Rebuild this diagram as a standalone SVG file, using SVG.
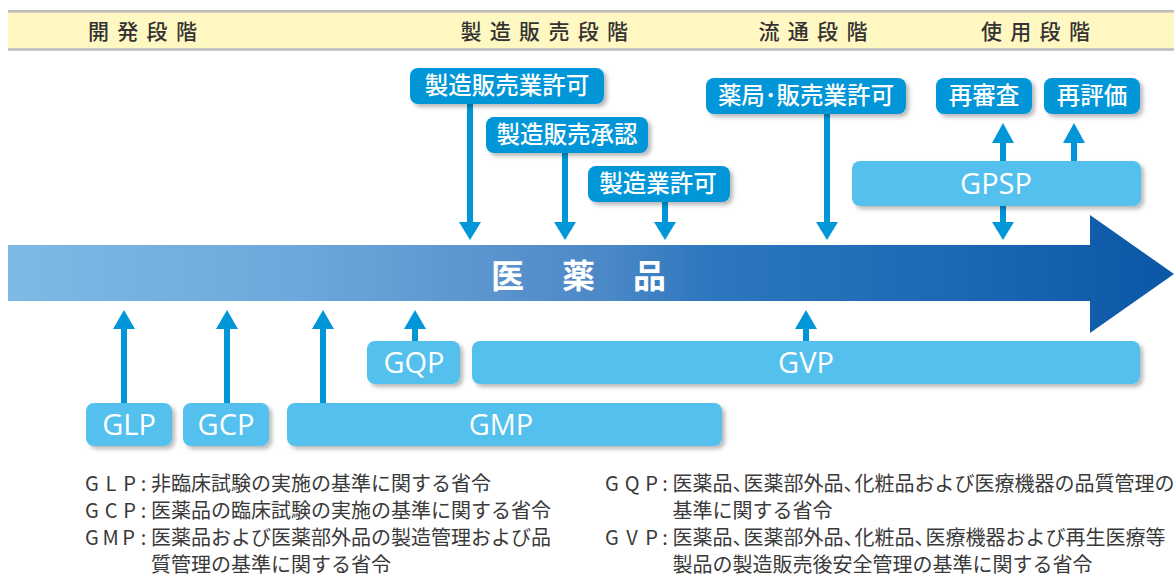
<svg xmlns="http://www.w3.org/2000/svg" width="1174" height="577" viewBox="0 0 1174 577">
  <style>
    .hdr{font-family:'Noto Sans CJK JP',sans-serif;font-size:21px;fill:#333;font-weight:500;letter-spacing:8.3px}
    .dbox{fill:#0096D8}
    .lbox{fill:#52C0EE}
    .dtxt{font-family:'Noto Sans CJK JP',sans-serif;font-size:23.5px;fill:#fff;font-weight:500;text-anchor:middle}
    .ltxt{font-family:'Open Sans','Noto Sans',sans-serif;font-size:29px;fill:#fff;text-anchor:middle}
    .conn{stroke:#0096D8;stroke-width:6;fill:none}
    .head{fill:#0096D8}
    .leg{font-family:'Noto Sans CJK JP',sans-serif;font-size:20px;fill:#3a3a3a}
    .cm{letter-spacing:-9px}
    .big{font-family:'Noto Sans CJK JP',sans-serif;font-size:33px;fill:#fff;font-weight:bold}
  </style>
  <defs>
    <linearGradient id="mainGrad" x1="8" y1="0" x2="1174" y2="0" gradientUnits="userSpaceOnUse">
      <stop offset="0" stop-color="#7EBAE5"/>
      <stop offset="0.25" stop-color="#6CA8DB"/>
      <stop offset="0.42" stop-color="#5A93CE"/>
      <stop offset="0.52" stop-color="#4A87C6"/>
      <stop offset="0.6" stop-color="#2C77BE"/>
      <stop offset="0.8" stop-color="#1C69B4"/>
      <stop offset="1" stop-color="#0B57A7"/>
    </linearGradient>
    <filter id="sh" x="-10%" y="-30%" width="125%" height="170%">
      <feDropShadow dx="3" dy="3" stdDeviation="2.2" flood-color="#000" flood-opacity="0.28"/>
    </filter>
  </defs>

  <!-- header band -->
  <g id="header">
    <rect x="8" y="11" width="1166" height="38.5" fill="#FFF8C2"/>
    <rect x="8" y="10" width="1166" height="2.6" fill="#BDBDBD"/>
    <rect x="8" y="48.2" width="1166" height="2.6" fill="#BDBDBD"/>
    <text class="hdr" x="88" y="38.5">開発段階</text>
    <text class="hdr" x="460.5" y="38.5">製造販売段階</text>
    <text class="hdr" x="758.5" y="38.5">流通段階</text>
    <text class="hdr" x="981" y="38.5">使用段階</text>
  </g>

  <!-- main arrow -->
  <g id="main-arrow">
    <path d="M8 245 H1090 V215 L1174 274 L1090 333 V301 H8 Z" fill="url(#mainGrad)"/>
    <text class="big" x="491" y="288">医</text>
    <text class="big" x="562" y="288">薬</text>
    <text class="big" x="633" y="288">品</text>
  </g>

  <!-- connectors -->
  <g id="connectors">
    <line class="conn" x1="470" y1="103" x2="470" y2="224"/>
    <polygon class="head" points="459,222 481,222 470,240"/>
    <line class="conn" x1="565" y1="152" x2="565" y2="224"/>
    <polygon class="head" points="554,222 576,222 565,240"/>
    <line class="conn" x1="665" y1="201" x2="665" y2="224"/>
    <polygon class="head" points="654,222 676,222 665,240"/>
    <line class="conn" x1="827" y1="113" x2="827" y2="224"/>
    <polygon class="head" points="816,222 838,222 827,240"/>
    <!-- 再審査 double -->
    <line class="conn" x1="1003" y1="140" x2="1003" y2="162"/>
    <polygon class="head" points="992,143 1014,143 1003,123"/>
    <line class="conn" x1="1003" y1="205" x2="1003" y2="224"/>
    <polygon class="head" points="992,222 1014,222 1003,240"/>
    <!-- 再評価 -->
    <line class="conn" x1="1074" y1="140" x2="1074" y2="162"/>
    <polygon class="head" points="1063,143 1085,143 1074,123"/>
    <!-- bottom up arrows -->
    <line class="conn" x1="124" y1="326" x2="124" y2="404"/>
    <polygon class="head" points="113,329 135,329 124,310"/>
    <line class="conn" x1="227" y1="326" x2="227" y2="404"/>
    <polygon class="head" points="216,329 238,329 227,310"/>
    <line class="conn" x1="323" y1="326" x2="323" y2="404"/>
    <polygon class="head" points="312,329 334,329 323,310"/>
    <line class="conn" x1="415" y1="326" x2="415" y2="342"/>
    <polygon class="head" points="404,329 426,329 415,310"/>
    <line class="conn" x1="806" y1="326" x2="806" y2="342"/>
    <polygon class="head" points="795,329 817,329 806,310"/>
  </g>

  <!-- top dark boxes -->
  <g id="n-seizohanbaigyo">
    <rect class="dbox" x="410" y="68" width="194" height="36" rx="8" filter="url(#sh)"/>
    <text class="dtxt" x="507" y="94">製造販売業許可</text>
  </g>
  <g id="n-seizohanbaishonin">
    <rect class="dbox" x="486" y="117" width="162" height="36" rx="8" filter="url(#sh)"/>
    <text class="dtxt" x="567" y="143">製造販売承認</text>
  </g>
  <g id="n-seizogyo">
    <rect class="dbox" x="588" y="166" width="142" height="36" rx="8" filter="url(#sh)"/>
    <text class="dtxt" x="658" y="192">製造業許可</text>
  </g>
  <g id="n-yakkyoku">
    <rect class="dbox" x="706" y="78" width="200" height="36" rx="8" filter="url(#sh)"/>
    <text class="dtxt" x="806" y="104">薬局･販売業許可</text>
  </g>
  <g id="n-saishinsa">
    <rect class="dbox" x="936" y="78" width="96" height="36" rx="8" filter="url(#sh)"/>
    <text class="dtxt" x="984" y="104">再審査</text>
  </g>
  <g id="n-saihyoka">
    <rect class="dbox" x="1044" y="78" width="96" height="36" rx="8" filter="url(#sh)"/>
    <text class="dtxt" x="1092" y="104">再評価</text>
  </g>

  <!-- light boxes -->
  <g id="n-gpsp">
    <rect class="lbox" x="852" y="161" width="289" height="45" rx="8" filter="url(#sh)"/>
    <text class="ltxt" x="996" y="194">GPSP</text>
  </g>
  <g id="n-gqp">
    <rect class="lbox" x="367" y="341" width="93" height="43" rx="8" filter="url(#sh)"/>
    <text class="ltxt" x="414" y="373">GQP</text>
  </g>
  <g id="n-gvp">
    <rect class="lbox" x="472" y="341" width="668" height="43" rx="8" filter="url(#sh)"/>
    <text class="ltxt" x="806" y="373">GVP</text>
  </g>
  <g id="n-glp">
    <rect class="lbox" x="86" y="403" width="86" height="43" rx="8" filter="url(#sh)"/>
    <text class="ltxt" x="129" y="435">GLP</text>
  </g>
  <g id="n-gcp">
    <rect class="lbox" x="183" y="403" width="86" height="43" rx="8" filter="url(#sh)"/>
    <text class="ltxt" x="226" y="435">GCP</text>
  </g>
  <g id="n-gmp">
    <rect class="lbox" x="287" y="403" width="435" height="43" rx="8" filter="url(#sh)"/>
    <text class="ltxt" x="501" y="435">GMP</text>
  </g>

  <!-- legend -->
  <g id="legend">
    <text class="leg" x="85" y="491" textLength="51" lengthAdjust="spacing">GLP</text>
    <text class="leg" x="143.5" y="491" text-anchor="middle">:</text>
    <text class="leg" x="151" y="491">非臨床試験の実施の基準に関する省令</text>
    <text class="leg" x="85" y="518" textLength="51" lengthAdjust="spacing">GCP</text>
    <text class="leg" x="143.5" y="518" text-anchor="middle">:</text>
    <text class="leg" x="151" y="518">医薬品の臨床試験の実施の基準に関する省令</text>
    <text class="leg" x="85" y="545" textLength="50" lengthAdjust="spacing">GMP</text>
    <text class="leg" x="143.5" y="545" text-anchor="middle">:</text>
    <text class="leg" x="151" y="545">医薬品および医薬部外品の製造管理および品</text>
    <text class="leg" x="151" y="572">質管理の基準に関する省令</text>

    <text class="leg" x="605" y="491" textLength="53" lengthAdjust="spacing">GQP</text>
    <text class="leg" x="665" y="491" text-anchor="middle">:</text>
    <text class="leg" x="672.5" y="491">医薬品<tspan class="cm">、</tspan>医薬部外品<tspan class="cm">、</tspan>化粧品および医療機器の品質管理の</text>
    <text class="leg" x="672.5" y="518">基準に関する省令</text>
    <text class="leg" x="605" y="545" textLength="53" lengthAdjust="spacing">GVP</text>
    <text class="leg" x="665" y="545" text-anchor="middle">:</text>
    <text class="leg" x="672.5" y="545">医薬品<tspan class="cm">、</tspan>医薬部外品<tspan class="cm">、</tspan>化粧品<tspan class="cm">、</tspan>医療機器および再生医療等</text>
    <text class="leg" x="672.5" y="572">製品の製造販売後安全管理の基準に関する省令</text>
  </g>
</svg>
